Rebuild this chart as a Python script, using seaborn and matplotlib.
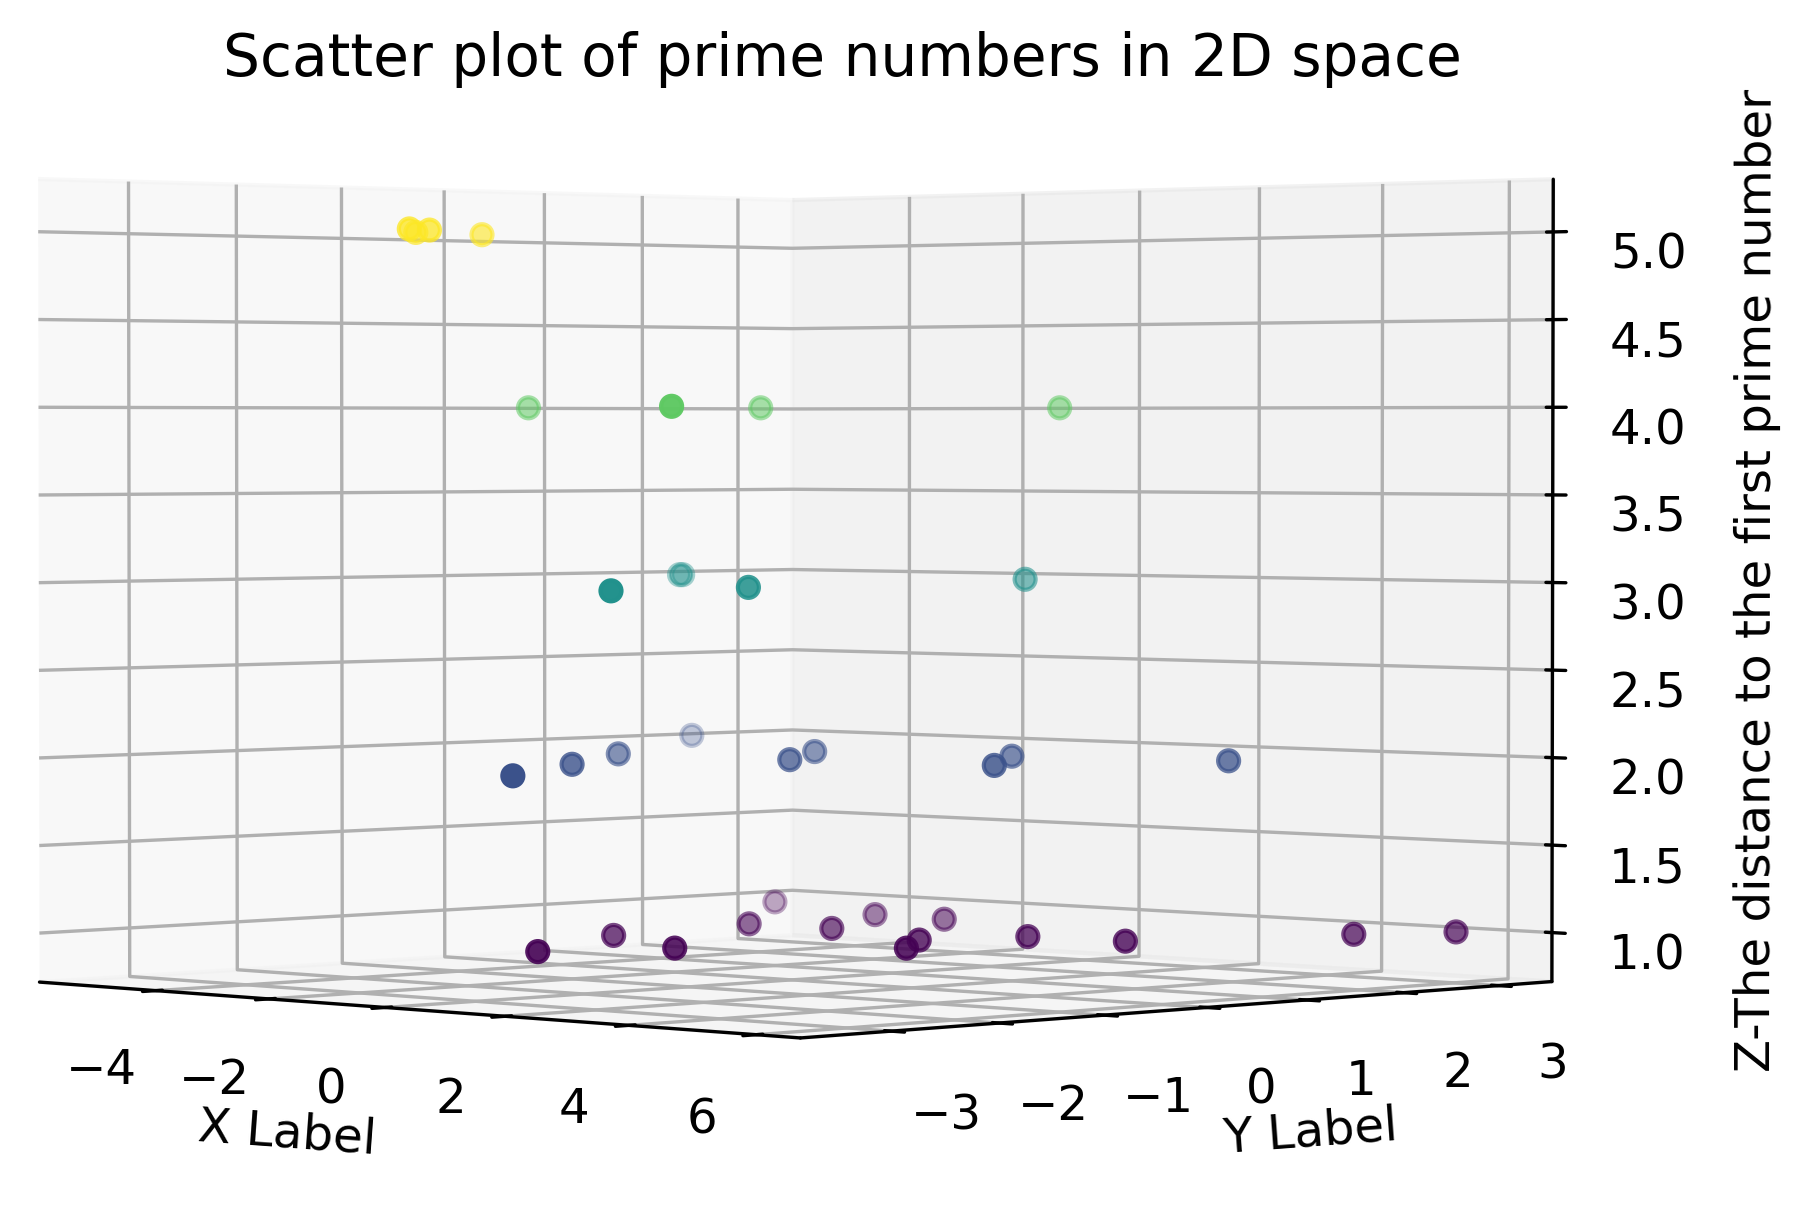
import matplotlib
matplotlib.use("Agg")
import seaborn as sns, matplotlib.pyplot as plt

x_values=[-1.95,-3.17,-2.20,-3.47, -3.95,2.46,-1.94,0.66, 2.27,-4.49,-4.47,1.95,0.76,
          1.58,-0.25,-2.08,-5.71,0.62,-0.89,3.49,1.79,4.55,
          0.64,-0.91,1.31,-1.38,-4.43,-0.02,-1.61,3.23,2.29,-0.34,2.75,4.16,5.21,5.78]
y_values=[-2.56,-1.85,-2.24,-1.06, -0.35,-2.56,0.82,2.32, -3.01,1.46,1.48,-1.55,1.90,
          -3.52,-1.97,-0.51,2.28,-0.38,0.75,-0.09,1.13,1.60,
          -2.78,-1.21,-1.88,0.38,2.41,0.41,1.79,-0.79,-0.10,1.74,0.70,0.80,2.47,3.17]
z_values=[5,5,5,5, 4,4,4,4, 3,3,3,3,3,
          2,2,2,2,2,2,2,2,2,
          1,1,1,1,1,1,1,1,1,1,1,1,1,1]
x_ticks=[-4,-2,0,2,4,6]
y_ticks=[-3,-2,-1,0,1,2,3]
z_ticks=[1,1.5,2,2.5,3,3.5,4,4.5,5]

sns.set_style("white",{'text.color':'black','axes.labelcolor':'black','xtick.color':'black','ytick.color':'black','grid.color':'#b0b0b0','axes.edgecolor':'black'})
plt.rcParams['font.family']=['DejaVu Sans']
fig=plt.figure(figsize=(6.003,4.0),dpi=302)
ax=fig.add_axes([-0.069,0.057,1.0,0.9],projection='3d')
ax.set_proj_type('persp',focal_length=1.4)
ax.view_init(elev=1.07,azim=-45.3)
ax.set_box_aspect(None,zoom=1.53)
ax.scatter(x_values,y_values,z_values,c=z_values,cmap=sns.color_palette('viridis',as_cmap=True),s=25,clip_on=False)
ax.set_xlim(-6.12,6.68);ax.set_ylim(-3.82,3.58);ax.set_zlim(0.72,5.3)
ax.set_xticks(x_ticks);ax.set_yticks(y_ticks);ax.set_zticks(z_ticks)
ax.tick_params(labelsize=11.5)
ax.tick_params(axis='x',pad=0.8);ax.tick_params(axis='y',pad=0.8);ax.tick_params(axis='z',pad=0.5)
ax.set_xlabel('X Label',fontsize=11.5,labelpad=-2.5)
ax.set_ylabel('Y Label',fontsize=11.5,labelpad=-2.5)
ax.set_zlabel('Z-The distance to the first prime number',fontsize=11.5,labelpad=-2.7)
ax.set_title('Scatter plot of prime numbers in 2D space',fontsize=13.85,x=0.556,y=1.063,pad=0)
fig.savefig('out.png',dpi=302)
